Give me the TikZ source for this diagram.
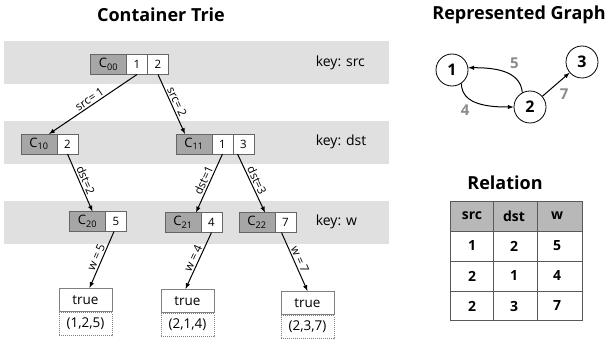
\documentclass[tikz,border=0pt]{standalone}
\usepackage{fontspec}
\setmainfont{Open Sans}
\usetikzlibrary{positioning}

\tikzset{
  band/.style={fill=black!12},
  cname/.style={draw=black!60, fill=black!35, minimum width=36pt, minimum height=20pt,
    inner sep=0pt, outer sep=0pt, font=\fontsize{13}{13}\selectfont},
  cval/.style={draw=black!60, fill=white, minimum width=21pt, minimum height=20pt,
    inner sep=0pt, outer sep=0pt, font=\fontsize{11.5}{11.5}\selectfont},
  leaf/.style={draw=black!50, fill=white, minimum width=53pt, minimum height=23pt,
    inner sep=0pt, font=\fontsize{13.5}{13.5}\selectfont},
  tuple/.style={draw=black!50, densely dotted, minimum width=53pt, minimum height=23pt,
    inner sep=0pt, font=\fontsize{13.5}{13.5}\selectfont},
  elabel/.style={sloped, above, inner sep=1.5pt, font=\fontsize{11.5}{11.5}\selectfont},
  keylabel/.style={anchor=west, font=\fontsize{14}{14}\selectfont},
  heading/.style={font=\bfseries\fontsize{18}{18}\selectfont},
  vertex/.style={circle, draw, thick, minimum size=32pt, inner sep=0pt,
    font=\bfseries\fontsize{16}{16}\selectfont},
  weight/.style={text=black!45, font=\bfseries\fontsize{15}{15}\selectfont},
  cell/.style={font=\bfseries\fontsize{14}{14}\selectfont},
}

\begin{document}
\begin{tikzpicture}[x=1pt, y=1pt, line width=1pt]
      \useasboundingbox (0,0) rectangle (607,-342);

      % key bands
      \fill[band] (4,-41) rectangle (389,-84);
      \fill[band] (4,-121) rectangle (389,-164);
      \fill[band] (4,-201) rectangle (389,-244);
      \node[heading] (trie) at (161,-15) {Container Trie};
      \node[keylabel] (k0) at (312,-63) {key: src};
      \node[keylabel] (k1) at (312,-142) {key: dst};
      \node[keylabel] (k2) at (312,-222) {key: w};

      % containers
      \node[cname] (c00) at (108.5,-64.5) {C\textsubscript{00}};
      \node[cval, right=0pt of c00] (c00a) {1};
      \node[cval, right=0pt of c00a] (c00b) {2};
      \node[cname] (c10) at (39,-144) {C\textsubscript{10}};
      \node[cval, right=0pt of c10] (c10a) {2};
      \node[cname] (c11) at (194,-144) {C\textsubscript{11}};
      \node[cval, right=0pt of c11] (c11a) {1};
      \node[cval, right=0pt of c11a] (c11b) {3};
      \node[cname] (c20) at (87.5,-221.5) {C\textsubscript{20}};
      \node[cval, right=0pt of c20] (c20a) {5};
      \node[cname] (c21) at (183,-222.5) {C\textsubscript{21}};
      \node[cval, right=0pt of c21] (c21a) {4};
      \node[cname] (c22) at (257,-222.5) {C\textsubscript{22}};
      \node[cval, right=0pt of c22] (c22a) {7};

      % leaves
      \node[leaf] (t1) at (85.5,-300) {true};
      \node[tuple, below=0pt of t1] (p1) {(1,2,5)};
      \node[leaf] (t2) at (187.5,-301) {true};
      \node[tuple, below=0pt of t2] (p2) {(2,1,4)};
      \node[leaf] (t3) at (307.5,-303) {true};
      \node[tuple, below=0pt of t3] (p3) {(2,3,7)};

      % trie edges
      \draw[-latex] (c00a.south) -- ([xshift=-8pt]c10.north east) node[elabel, midway] (e1) {src= 1};
      \draw[-latex] (c00b.south) -- ([xshift=-27pt]c11.north east) node[elabel, midway] (e2) {src= 2};
      \draw[-latex] (c10a.south) -- ([xshift=-13pt]c20.north east) node[elabel, midway] (e3) {dst=2};
      \draw[-latex] (c11a.south) -- ([xshift=-5pt]c21.north east) node[elabel, midway] (e4) {dst=1};
      \draw[-latex] ([xshift=-6pt]c11b.south) -- ([xshift=-10pt]c22.north east) node[elabel, midway] (e5) {dst=3};
      \draw[-latex] ([xshift=-2pt]c20a.south) -- ([xshift=4pt]t1.north) node[elabel, midway] (e6) {w = 5};
      \draw[-latex] (c21a.south) -- ([xshift=-2pt]t2.north) node[elabel, midway] (e7) {w = 4};
      \draw[-latex] ([xshift=-4pt]c22a.south) -- (t3.north) node[elabel, midway] (e8) {w = 7};

      % represented graph
      \node[heading] (graph) at (519,-15) {Represented Graph};
      \node[vertex] (n1) at (452,-70) {1};
      \node[vertex] (n2) at (530,-107) {2};
      \node[vertex] (n3) at (582,-62) {3};
      \draw[-latex] (n2.118) to[out=95, in=0] node[weight, pos=0.45, above right] (w5) {5} (n1.8);
      \draw[-latex] (n1.-55) to[out=-90, in=180] node[weight, pos=0.4, below left] (w4) {4} (n2.west);
      \draw[-latex] (n2) -- (n3) node[weight, midway, below right] (w7) {7};

      % relation
      \node[heading] (rel) at (505,-183) {Relation};
      \fill[black!28] (450,-201) rectangle (582,-231);
      \draw[black!65, line width=0.7pt] (450,-201) rectangle (582,-320);
      \foreach \y in {231,261,291}
        \draw[black!65, line width=0.7pt] (450,-\y) -- (582,-\y);
      \foreach \x in {493,537}
        \draw[black!65, line width=0.7pt] (\x,-201) -- (\x,-320);
      \foreach \a/\b/\c [count=\r] in {src/dst/w, 1/2/5, 2/1/4, 2/3/7} {
        \node[cell] (r\r a) at (472,-186-30*\r) {\a};
        \node[cell] (r\r b) at (514,-186-30*\r) {\b};
        \node[cell] (r\r c) at (557,-186-30*\r) {\c};
      }
\end{tikzpicture}
\end{document}
